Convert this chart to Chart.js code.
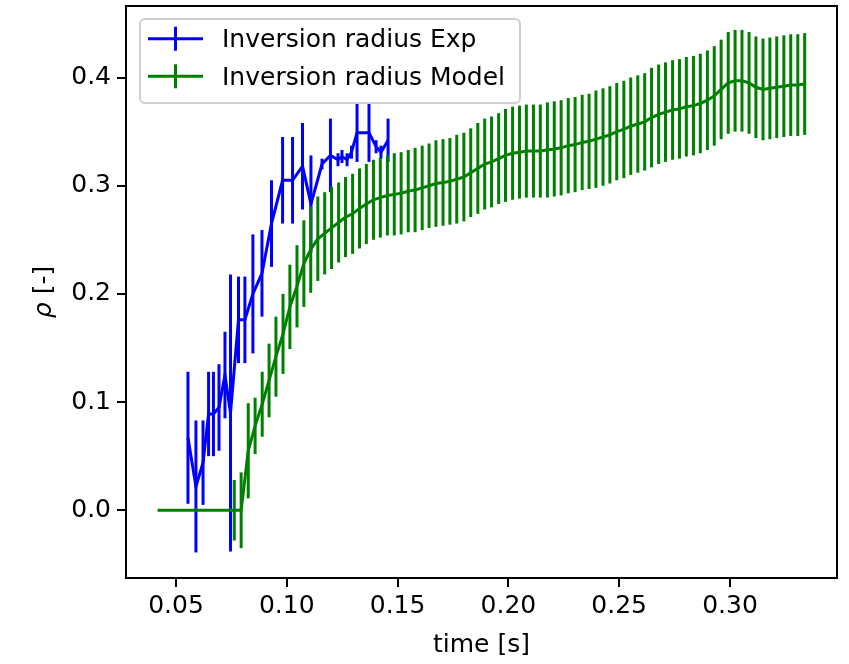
<!DOCTYPE html>
<html>
<head>
<meta charset="utf-8">
<script src="https://cdn.jsdelivr.net/npm/chart.js@4.4.0/dist/chart.umd.min.js"></script>
<style>
  html, body { margin: 0; padding: 0; background: #fff; }
  #wrap { width: 849px; height: 664px; }
</style>
</head>
<body>
<div id="wrap"><canvas id="chart" width="849" height="664"></canvas></div>
<script>
// experimental inversion radius
const expTime = [0.0554, 0.0590, 0.0622, 0.0647, 0.0669, 0.0694, 0.0721, 0.0746, 0.0782, 0.0811,
  0.0847, 0.0888, 0.0931, 0.0981, 0.1026, 0.1071, 0.1109, 0.1159, 0.1197, 0.1231,
  0.1249, 0.1272, 0.1292, 0.1317, 0.1371, 0.1403, 0.1425, 0.1457];
const expRho = [0.067, 0.022, 0.044, 0.089, 0.089, 0.095, 0.125, 0.090, 0.176, 0.176,
  0.200, 0.219, 0.265, 0.305, 0.305, 0.318, 0.283, 0.320, 0.328, 0.324,
  0.327, 0.324, 0.331, 0.349, 0.349, 0.336, 0.331, 0.342];
const expErr = [0.061, 0.061, 0.039, 0.039, 0.039, 0.040, 0.040, 0.128, 0.040, 0.040,
  0.055, 0.040, 0.040, 0.040, 0.040, 0.040, 0.045, 0.005, 0.034, 0.006,
  0.006, 0.006, 0.006, 0.027, 0.027, 0.006, 0.006, 0.020];

// model inversion radius
const modTime = [0.0417, 0.0448, 0.0480, 0.0511, 0.0543, 0.0574, 0.0606, 0.0637, 0.0668, 0.0700, 0.0731,
  0.0763, 0.0794, 0.0826, 0.0857, 0.0889, 0.0920, 0.0951, 0.0983, 0.1014, 0.1046,
  0.1077, 0.1108, 0.1140, 0.1171, 0.1202, 0.1234, 0.1265, 0.1297, 0.1328, 0.1359,
  0.1391, 0.1422, 0.1454, 0.1485, 0.1516, 0.1548, 0.1579, 0.1611, 0.1642, 0.1673,
  0.1705, 0.1736, 0.1767, 0.1799, 0.1830, 0.1862, 0.1893, 0.1924, 0.1956, 0.1987,
  0.2019, 0.2050, 0.2081, 0.2113, 0.2144, 0.2176, 0.2207, 0.2238, 0.2270, 0.2301,
  0.2333, 0.2364, 0.2395, 0.2427, 0.2458, 0.2489, 0.2521, 0.2552, 0.2584, 0.2615,
  0.2646, 0.2678, 0.2709, 0.2741, 0.2772, 0.2803, 0.2835, 0.2866, 0.2898, 0.2929,
  0.2960, 0.2992, 0.3023, 0.3054, 0.3086, 0.3117, 0.3149, 0.3180, 0.3211, 0.3243,
  0.3274, 0.3306, 0.3337];
const modRho = [0, 0, 0, 0, 0, 0, 0, 0, 0, 0, 0,
  0.000, 0.000, 0.055, 0.078, 0.098, 0.120, 0.142, 0.163, 0.188, 0.207,
  0.228, 0.241, 0.251, 0.256, 0.261, 0.266, 0.271, 0.274, 0.279, 0.283,
  0.287, 0.289, 0.291, 0.292, 0.293, 0.295, 0.296, 0.298, 0.300, 0.302,
  0.303, 0.304, 0.306, 0.308, 0.312, 0.316, 0.320, 0.322, 0.325, 0.328,
  0.330, 0.331, 0.332, 0.332, 0.332, 0.333, 0.334, 0.335, 0.337, 0.338,
  0.340, 0.341, 0.343, 0.345, 0.347, 0.350, 0.352, 0.355, 0.357, 0.359,
  0.363, 0.366, 0.368, 0.370, 0.371, 0.373, 0.374, 0.376, 0.379, 0.383,
  0.389, 0.395, 0.397, 0.397, 0.395, 0.391, 0.389, 0.390, 0.391, 0.392,
  0.393, 0.393, 0.394];
const modErr = [0, 0, 0, 0, 0, 0, 0, 0, 0, 0, 0,
  0.028, 0.035, 0.044, 0.026, 0.030, 0.034, 0.037, 0.037, 0.039, 0.038,
  0.040, 0.040, 0.039, 0.038, 0.038, 0.037, 0.037, 0.037, 0.037, 0.037,
  0.037, 0.037, 0.037, 0.038, 0.038, 0.038, 0.039, 0.039, 0.039, 0.040,
  0.040, 0.040, 0.041, 0.041, 0.041, 0.042, 0.042, 0.042, 0.042, 0.043,
  0.043, 0.043, 0.043, 0.043, 0.043, 0.044, 0.044, 0.044, 0.044, 0.044,
  0.044, 0.044, 0.045, 0.045, 0.045, 0.045, 0.045, 0.045, 0.045, 0.045,
  0.046, 0.046, 0.046, 0.046, 0.046, 0.046, 0.046, 0.046, 0.046, 0.046,
  0.046, 0.047, 0.047, 0.047, 0.047, 0.047, 0.047, 0.047, 0.047, 0.047,
  0.047, 0.047, 0.047];

const xTicks = [0.05, 0.10, 0.15, 0.20, 0.25, 0.30];
const xTickLabels = ['0.05', '0.10', '0.15', '0.20', '0.25', '0.30'];
const yTicks = [0.0, 0.1, 0.2, 0.3, 0.4];
const yTickLabels = ['0.0', '0.1', '0.2', '0.3', '0.4'];
const seriesLabels = ['Inversion radius Exp', 'Inversion radius Model'];
const seriesColors = ['#0000ff', '#008000'];

Chart.defaults.font.family = 'DejaVu Sans';
Chart.defaults.font.size = 25;
Chart.defaults.color = '#000';

// vertical error bars, drawn right after each dataset's line
const errorBars = {
  id: 'errorBars',
  afterDatasetDraw(chart, args) {
    const ds = chart.data.datasets[args.index];
    const y = chart.scales.y;
    const a = chart.chartArea;
    const ctx = chart.ctx;
    ctx.save();
    ctx.beginPath();
    ctx.rect(a.left, a.top, a.right - a.left, a.bottom - a.top);
    ctx.clip();
    ctx.strokeStyle = ds.borderColor;
    ctx.lineWidth = 3;
    ds.err.forEach((e, i) => {
      if (!e) return;
      const px = args.meta.data[i].x;
      const v = ds.data[i].y;
      ctx.beginPath();
      ctx.moveTo(px, y.getPixelForValue(v - e));
      ctx.lineTo(px, y.getPixelForValue(v + e));
      ctx.stroke();
    });
    ctx.restore();
  }
};

// axes frame, y title (italic rho) and matplotlib-like legend
const frameLegend = {
  id: 'frameLegend',
  afterDraw(chart) {
    const ctx = chart.ctx;
    const a = chart.chartArea;
    ctx.save();
    ctx.strokeStyle = '#000';
    ctx.lineWidth = 2;
    ctx.strokeRect(a.left, a.top, a.right - a.left, a.bottom - a.top);

    // y axis title
    ctx.save();
    ctx.translate(44, (a.top + a.bottom) / 2);
    ctx.rotate(-Math.PI / 2);
    ctx.textBaseline = 'middle';
    ctx.fillStyle = '#000';
    const fIt = 'italic 25px "DejaVu Sans"', fUp = '25px "DejaVu Sans"';
    ctx.font = fIt; const w1 = ctx.measureText('ρ').width;
    ctx.font = fUp; const w2 = ctx.measureText(' [-]').width;
    let sx = -(w1 + w2) / 2;
    ctx.font = fIt; ctx.fillText('ρ', sx, 0);
    ctx.font = fUp; ctx.fillText(' [-]', sx + w1, 0);
    ctx.restore();

    // legend box
    const bx = 140, by = 19, bw = 380, bh = 84, r = 5;
    ctx.beginPath();
    ctx.moveTo(bx + r, by);
    ctx.arcTo(bx + bw, by, bx + bw, by + bh, r);
    ctx.arcTo(bx + bw, by + bh, bx, by + bh, r);
    ctx.arcTo(bx, by + bh, bx, by, r);
    ctx.arcTo(bx, by, bx + bw, by, r);
    ctx.closePath();
    ctx.fillStyle = 'rgba(255,255,255,0.8)';
    ctx.fill();
    ctx.strokeStyle = '#d0d0d0';
    ctx.lineWidth = 2;
    ctx.stroke();

    const rows = [38.7, 76.3];
    ctx.font = '25px "DejaVu Sans"';
    ctx.textBaseline = 'middle';
    rows.forEach((ry, i) => {
      ctx.strokeStyle = seriesColors[i];
      ctx.lineWidth = 3;
      ctx.beginPath();
      ctx.moveTo(148, ry); ctx.lineTo(203, ry);
      ctx.moveTo(175.5, ry - 12); ctx.lineTo(175.5, ry + 12);
      ctx.stroke();
      ctx.fillStyle = '#000';
      ctx.fillText(seriesLabels[i], 222, ry + 2);
    });
    ctx.restore();
  }
};

new Chart(document.getElementById('chart'), {
  type: 'line',
  data: {
    datasets: [
      {
        label: seriesLabels[0],
        data: expTime.map((t, i) => ({ x: t, y: expRho[i] })),
        err: expErr,
        borderColor: seriesColors[0],
        borderWidth: 3,
        pointRadius: 0,
        tension: 0,
        order: 1
      },
      {
        label: seriesLabels[1],
        data: modTime.map((t, i) => ({ x: t, y: modRho[i] })),
        err: modErr,
        borderColor: seriesColors[1],
        borderWidth: 3,
        pointRadius: 0,
        tension: 0,
        order: 0
      }
    ]
  },
  options: {
    responsive: false,
    animation: false,
    devicePixelRatio: 1,
    layout: { padding: { left: 0, right: 12, top: 6, bottom: 0 } },
    plugins: { legend: { display: false }, tooltip: { enabled: false } },
    scales: {
      x: {
        type: 'linear',
        min: 0.02744,
        max: 0.34829,
        afterBuildTicks: s => { s.ticks = xTicks.map(v => ({ value: v })); },
        afterFit: s => { s.height = 86; s.paddingLeft = 0; s.paddingRight = 0; },
        ticks: {
          autoSkip: false, maxRotation: 0, padding: 4,
          callback: (v, i) => xTickLabels[i]
        },
        grid: { drawOnChartArea: false, drawTicks: true, tickLength: 9, color: '#000', lineWidth: 2 },
        border: { display: false },
        title: { display: true, text: 'time [s]', padding: { top: 0, bottom: 4 } }
      },
      y: {
        type: 'linear',
        min: -0.0626,
        max: 0.4661,
        afterBuildTicks: s => { s.ticks = yTicks.map(v => ({ value: v })); },
        afterFit: s => { s.width = 126; s.paddingTop = 0; s.paddingBottom = 0; },
        ticks: {
          autoSkip: false, padding: 6,
          callback: (v, i) => yTickLabels[i]
        },
        grid: { drawOnChartArea: false, drawTicks: true, tickLength: 9, color: '#000', lineWidth: 2 },
        border: { display: false },
        title: { display: false }
      }
    }
  },
  plugins: [errorBars, frameLegend]
});
</script>
</body>
</html>
